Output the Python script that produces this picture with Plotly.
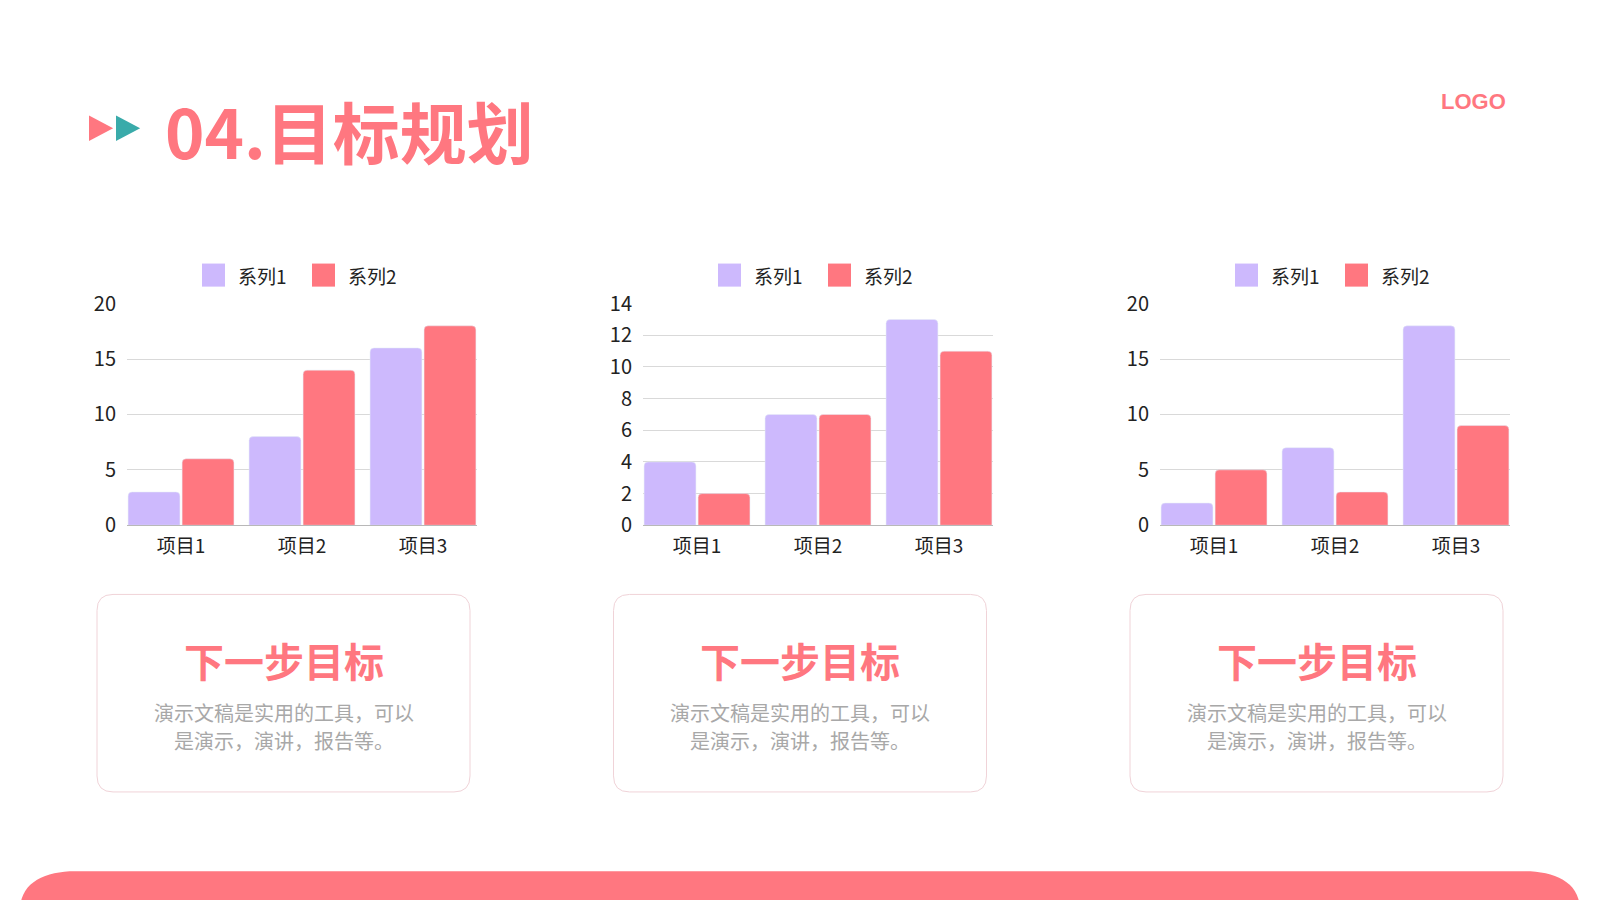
import plotly.graph_objects as go
from plotly.subplots import make_subplots

W, H = 1600, 900
PINK = "#FF7780"
PURPLE = "#CDB9FD"
TEAL = "#3AABAA"
FONT = "Noto Sans CJK SC"

# chart data
CATEGORIES = ["项目1", "项目2", "项目3"]
SERIES = ["系列1", "系列2"]
CHART1_S1 = [3, 8, 16]
CHART1_S2 = [6, 14, 18]
CHART2_S1 = [4, 7, 13]
CHART2_S2 = [2, 7, 11]
CHART3_S1 = [2, 7, 18]
CHART3_S2 = [5, 3, 9]
Y_MAX = [20, 14, 20]
Y_STEP = [5, 2, 5]

TITLE = "04.目标规划"
CARD_TITLE = "下一步目标"
CARD_LINES = ["演示文稿是实用的工具，可以", "是演示，演讲，报告等。"]

# the page adds a small margin round the figure; vertical placement tuned by eye
OFF_X = 8
SY, OFF_Y = 1.036, 27


def px(x):
    return (x - OFF_X) / W


def py(y):
    return 1 - (SY * y - OFF_Y) / H


charts = [(CHART1_S1, CHART1_S2), (CHART2_S1, CHART2_S2), (CHART3_S1, CHART3_S2)]
plot_left = [127, 643, 1160]
plot_w = 350

fig = make_subplots(rows=1, cols=3)

for i, (s1, s2) in enumerate(charts):
    for name, vals, col in zip(SERIES, [s1, s2], [PURPLE, PINK]):
        fig.add_trace(go.Bar(x=CATEGORIES, y=vals, name=name, marker_color=col,
                             marker_cornerradius=4, showlegend=False),
                      row=1, col=i + 1)
    ax = "" if i == 0 else str(i + 1)
    fig.update_layout({
        f"xaxis{ax}": dict(domain=[px(plot_left[i]), px(plot_left[i] + plot_w)],
                           range=[-0.5 + 0.0535, 2.5 - 0.0535],
                           showline=True, linecolor="#b8b8b8", linewidth=1,
                           showgrid=False, ticks="", ticklabelstandoff=4,
                           tickfont=dict(family=FONT, size=19, color="#222")),
        f"yaxis{ax}": dict(domain=[py(526), py(305)], range=[0, Y_MAX[i]],
                           dtick=Y_STEP[i], showgrid=True, gridcolor="#d9d9d9",
                           gridwidth=1, zeroline=False, showline=False, ticks="",
                           ticklabelstandoff=10,
                           tickfont=dict(family=FONT, size=20, color="#222")),
    })

fig.update_layout(barmode="group", bargap=0.107, bargroupgap=0.04)

shapes = []
annotations = []

# legends drawn above each chart
for i in range(3):
    for k, (name, col) in enumerate(zip(SERIES, [PURPLE, PINK])):
        x0 = plot_left[i] + 75 + k * 110
        shapes.append(dict(type="rect", xref="paper", yref="paper",
                           x0=px(x0), x1=px(x0 + 23), y0=py(288), y1=py(265),
                           fillcolor=col, line=dict(width=0)))
        annotations.append(dict(text=name, xref="paper", yref="paper",
                                x=px(x0 + 34), y=py(277), xanchor="left", yanchor="middle",
                                showarrow=False, font=dict(family=FONT, size=19, color="#222")))


# cards under the charts
def rounded_rect(x0, y0, x1, y1, r):
    return (f"M {px(x0 + r)},{py(y0)} L {px(x1 - r)},{py(y0)} "
            f"Q {px(x1)},{py(y0)} {px(x1)},{py(y0 + r)} L {px(x1)},{py(y1 - r)} "
            f"Q {px(x1)},{py(y1)} {px(x1 - r)},{py(y1)} L {px(x0 + r)},{py(y1)} "
            f"Q {px(x0)},{py(y1)} {px(x0)},{py(y1 - r)} L {px(x0)},{py(y0 + r)} "
            f"Q {px(x0)},{py(y0)} {px(x0 + r)},{py(y0)} Z")


card_left = [97, 613.5, 1130]
card_w = 373
for cl in card_left:
    shapes.append(dict(type="path", xref="paper", yref="paper",
                       path=rounded_rect(cl, 595, cl + card_w, 792, 16),
                       fillcolor="white", line=dict(color="#f0d3d8", width=1)))
    cx = px(cl + card_w / 2)
    annotations.append(dict(text=f"<b>{CARD_TITLE}</b>", xref="paper", yref="paper",
                            x=cx, y=py(660), xanchor="center", yanchor="middle",
                            showarrow=False, font=dict(family=FONT, size=40, color=PINK)))
    for j, line in enumerate(CARD_LINES):
        annotations.append(dict(text=line, xref="paper", yref="paper",
                                x=cx, y=py(713 + 28 * j), xanchor="center", yanchor="middle",
                                showarrow=False, font=dict(family=FONT, size=20, color="#a8a8a8")))

# header: play triangles, title, logo
for x0, col in [(90, PINK), (117, TEAL)]:
    shapes.append(dict(type="path", xref="paper", yref="paper",
                       path=f"M {px(x0)},{py(119)} L {px(x0 + 21)},{py(130)} L {px(x0)},{py(141)} Z",
                       fillcolor=col, line=dict(color=col, width=2)))

annotations.append(dict(text=f"<b>{TITLE}</b>", xref="paper", yref="paper",
                        x=px(163), y=py(131), xanchor="left", yanchor="middle",
                        showarrow=False, font=dict(family=FONT, size=67, color=PINK)))
annotations.append(dict(text="<b>LOGO</b>", xref="paper", yref="paper",
                        x=px(1508), y=py(103), xanchor="right", yanchor="middle",
                        showarrow=False, font=dict(family="Liberation Sans", size=22, color=PINK)))

# bottom band
shapes.append(dict(type="path", xref="paper", yref="paper",
                   path=(f"M {px(20)},{py(910)} C {px(20)},{py(882)} {px(45)},{py(871)} {px(75)},{py(871)} "
                         f"L {px(1525)},{py(871)} C {px(1555)},{py(871)} {px(1580)},{py(882)} {px(1580)},{py(910)} Z"),
                   fillcolor=PINK, line=dict(width=0)))

fig.update_layout(
    width=W, height=H,
    margin=dict(l=0, r=0, t=0, b=0),
    paper_bgcolor="white", plot_bgcolor="white",
    shapes=shapes, annotations=annotations,
    font=dict(family=FONT),
)

fig.write_html("out.html")
